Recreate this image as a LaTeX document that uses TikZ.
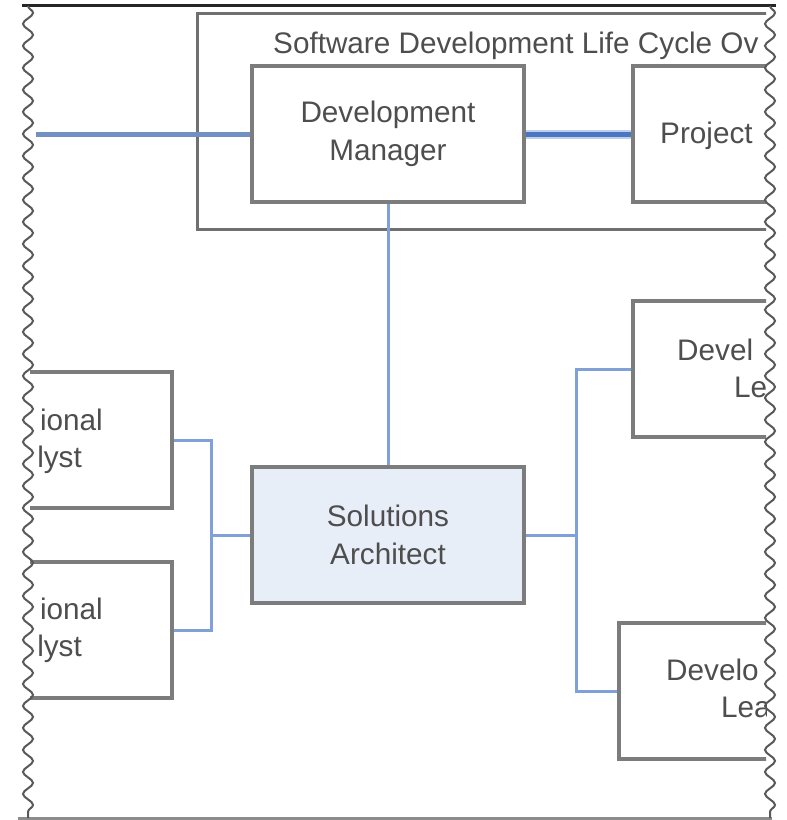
\documentclass[tikz,border=0pt]{standalone}
\usepackage{fontspec}
\setmainfont{Liberation Sans}
\usetikzlibrary{decorations.pathmorphing}

\definecolor{boxgray}{HTML}{7C7C7C}
\definecolor{txtgray}{HTML}{4E4E4E}
\definecolor{linkblue}{HTML}{7FA1D8}
\definecolor{darkblue}{HTML}{4B76C2}
\definecolor{paleblue}{HTML}{E8EEF8}

\tikzset{
  rolebox/.style={draw=boxgray, line width=3.5pt, fill=white,
    minimum width=272pt, minimum height=136pt, align=center,
    text=txtgray, font=\fontsize{29.7}{37.5}\selectfont},
  frag/.style={inner sep=0pt, text=txtgray, font=\fontsize{29.7}{37.5}\selectfont},
  link/.style={linkblue, line width=3pt},
  torn/.style={draw=black!65, line width=2pt,
    decorate, decoration={snake, segment length=22pt, amplitude=5pt}}
}

\begin{document}
\begin{tikzpicture}[x=1pt, y=-1pt]
  \useasboundingbox[fill=white] (0,0) rectangle (787,820);

  \begin{scope}
    \clip (30,0) rectangle (766,820);

    % Group frame
    \draw[boxgray!90!black, line width=3pt] (197,13) rectangle (900,229);
    \node[frag, anchor=base west] (ttl) at (273,53) {Software Development Life Cycle Ov};

    % Top row
    \node[rolebox] (dm) at (388,134) {Development\\Manager};
    \node[rolebox] (proj) at (769,134) {};
    \node[frag, anchor=base west] (projtxt) at (660,143) {Project};

    % Middle
    \node[rolebox, fill=paleblue] (sa) at (388,535) {Solutions\\Architect};

    % Left pair (cut off)
    \node[rolebox] (fa1) at (36,440) {};
    \node[frag, anchor=base east] (fa1a) at (103,430) {ional};
    \node[frag, anchor=base east] (fa1b) at (82,467) {lyst};
    \node[rolebox] (fa2) at (36,630) {};
    \node[frag, anchor=base east] (fa2a) at (103,619) {ional};
    \node[frag, anchor=base east] (fa2b) at (82,656) {lyst};

    % Right pair (cut off)
    \node[rolebox] (dl1) at (769,369) {};
    \node[frag, anchor=base west] (dl1a) at (677,360) {Devel};
    \node[frag, anchor=base west] (dl1b) at (734,397) {Le};
    \node[rolebox] (dl2) at (755,691) {};
    \node[frag, anchor=base west] (dl2a) at (666,680) {Develo};
    \node[frag, anchor=base west] (dl2b) at (721,717) {Lea};

    % Connectors
    \coordinate (edge) at (36,134);
    \coordinate (busL) at (211,535);
    \coordinate (busR) at (576,535);
    \draw[linkblue!90!black, line width=5pt] (edge) -- (dm.west);
    \draw[paleblue!60!linkblue, line width=9pt] (dm.east) -- (proj.west);
    \draw[darkblue, line width=5pt] (dm.east) -- (proj.west);
    \draw[link] (dm.south) -- (sa.north);
    \draw[link] (sa.west) -- (busL);
    \draw[link] (fa1.east) -| (busL) |- (fa2.east);
    \draw[link] (sa.east) -- (busR);
    \draw[link] (dl1.west) -| (busR) |- (dl2.west);
  \end{scope}

  % Torn edges and frame lines
  \draw[black!85, line width=3pt] (22,5) -- (776,5);
  \draw[black!45, line width=3pt] (18,818) -- (772,818);
  \draw[torn] (28,6) -- (28,818);
  \draw[torn] (770,6) -- (770,818);
\end{tikzpicture}
\end{document}
